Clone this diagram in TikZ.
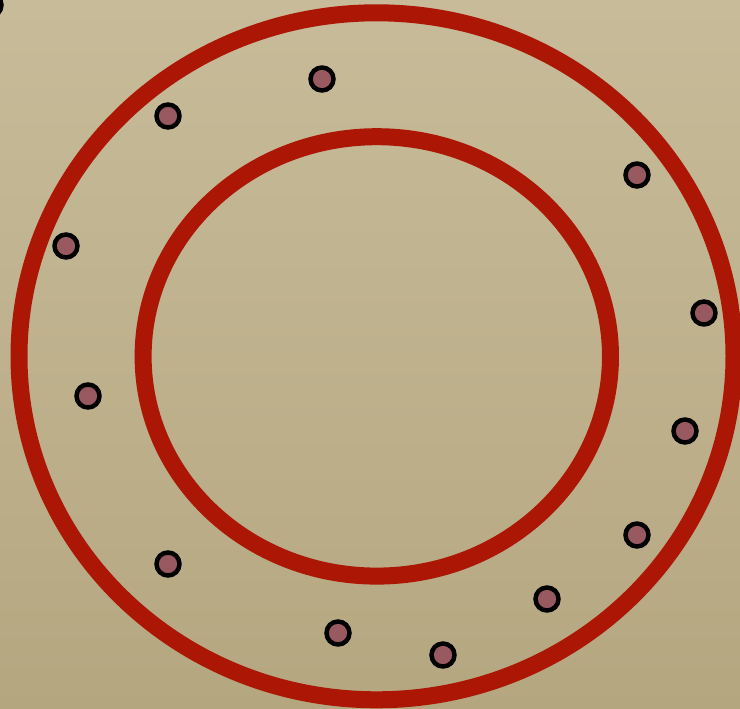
\documentclass[tikz,border=0pt]{standalone}
\definecolor{bgtop}{RGB}{200,187,153}
\definecolor{bgbot}{RGB}{180,167,128}
\definecolor{ringred}{RGB}{172,22,4}
\definecolor{dotfill}{RGB}{152,90,96}
\tikzset{
  ring/.style={draw=ringred, line width=17pt},
  dot/.style={circle, draw=black, line width=4.5pt, fill=dotfill, minimum size=23pt, inner sep=0pt}
}
\begin{document}
\begin{tikzpicture}[x=1pt,y=-1pt]
\useasboundingbox (0,0) rectangle (740,709);
\shade[top color=bgtop, bottom color=bgbot] (0,0) rectangle (740,709);
\begin{scope}
\clip (0,0) rectangle (740,709);
\draw[ring] (376.5,356.3) ellipse [x radius=357.5, y radius=343.5];
\draw[ring] (376.8,356.4) ellipse [x radius=233.7, y radius=219.7];
\node[dot] (d0) at (-10,5) {};
\end{scope}
\node[dot] (d1) at (322,79) {};
\node[dot] (d2) at (168,116) {};
\node[dot] (d3) at (66,246) {};
\node[dot] (d4) at (88,396) {};
\node[dot] (d5) at (168,564) {};
\node[dot] (d6) at (338,633) {};
\node[dot] (d7) at (443,655) {};
\node[dot] (d8) at (547,599) {};
\node[dot] (d9) at (637,535) {};
\node[dot] (d10) at (685,431) {};
\node[dot] (d11) at (704,313) {};
\node[dot] (d12) at (637,175) {};
\end{tikzpicture}
\end{document}
